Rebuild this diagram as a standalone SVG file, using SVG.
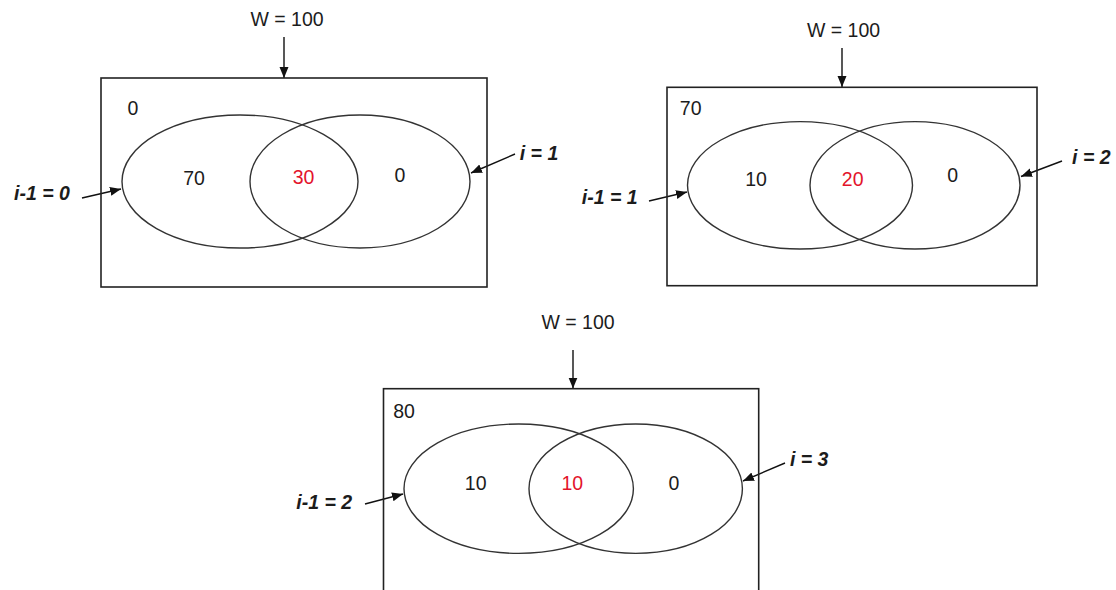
<svg xmlns="http://www.w3.org/2000/svg" width="1116" height="590" viewBox="0 0 1116 590">
<style>
.box{fill:none;stroke:#222;stroke-width:1.6}
.ell{fill:none;stroke:#333;stroke-width:1.4}
.t{font-family:"Liberation Sans",Arial,sans-serif;font-size:19.5px;fill:#1c1c1c;text-anchor:middle}
.r{fill:#e3142b}
.b{font-weight:bold;font-style:italic}
.c{stroke:#111;stroke-width:1.4;fill:none;marker-end:url(#ah)}
</style>
<defs>
<marker id="ah" markerUnits="userSpaceOnUse" markerWidth="12" markerHeight="10" refX="11" refY="4.5" orient="auto">
<path d="M0,0 L11,4.5 L0,9 z" fill="#111"/>
</marker>
</defs>
<rect width="1116" height="590" fill="#fff"/>
<g id="connectors">
<line class="c" x1="284" y1="37" x2="284" y2="78"/>
<line class="c" x1="82" y1="198" x2="121" y2="189"/>
<line class="c" x1="515" y1="154" x2="471" y2="173"/>
<line class="c" x1="842" y1="48" x2="842" y2="87"/>
<line class="c" x1="649" y1="201" x2="687" y2="192"/>
<line class="c" x1="1062" y1="161" x2="1021" y2="176.5"/>
<line class="c" x1="573" y1="350" x2="573" y2="388.5"/>
<line class="c" x1="365" y1="504" x2="403" y2="494"/>
<line class="c" x1="785" y1="463" x2="743" y2="481"/>
</g>
<g id="node1">
<rect class="box" x="101" y="78" width="386" height="209"/>
<ellipse class="ell" cx="240" cy="181.5" rx="118" ry="66.5"/>
<ellipse class="ell" cx="360" cy="181.5" rx="110" ry="66.5"/>
<text class="t" x="287" y="26">W = 100</text>
<text class="t" x="133" y="115">0</text>
<text class="t" x="194" y="185">70</text>
<text class="t r" x="303.5" y="184">30</text>
<text class="t" x="400" y="182">0</text>
<text class="t b" x="42" y="200">i-1 = 0</text>
<text class="t b" x="539" y="160">i = 1</text>
</g>
<g id="node2">
<rect class="box" x="667" y="87.3" width="370" height="198.4"/>
<ellipse class="ell" cx="800" cy="185.3" rx="112.5" ry="63.7"/>
<ellipse class="ell" cx="915" cy="185.3" rx="105" ry="63.7"/>
<text class="t" x="843.5" y="36.5">W = 100</text>
<text class="t" x="690.7" y="115">70</text>
<text class="t" x="756" y="185.5">10</text>
<text class="t r" x="852.7" y="185.5">20</text>
<text class="t" x="952.7" y="181.7">0</text>
<text class="t b" x="609.7" y="204">i-1 = 1</text>
<text class="t b" x="1091.3" y="164">i = 2</text>
</g>
<g id="node3">
<rect class="box" x="383.5" y="388.7" width="375.2" height="230"/>
<ellipse class="ell" cx="518.7" cy="488.7" rx="114.7" ry="64.7"/>
<ellipse class="ell" cx="635.7" cy="488.7" rx="106.7" ry="64.7"/>
<text class="t" x="578" y="329">W = 100</text>
<text class="t" x="404" y="418">80</text>
<text class="t" x="475.7" y="490">10</text>
<text class="t r" x="572.3" y="490">10</text>
<text class="t" x="674" y="490">0</text>
<text class="t b" x="324.2" y="509">i-1 = 2</text>
<text class="t b" x="809.2" y="466">i = 3</text>
</g>
</svg>
